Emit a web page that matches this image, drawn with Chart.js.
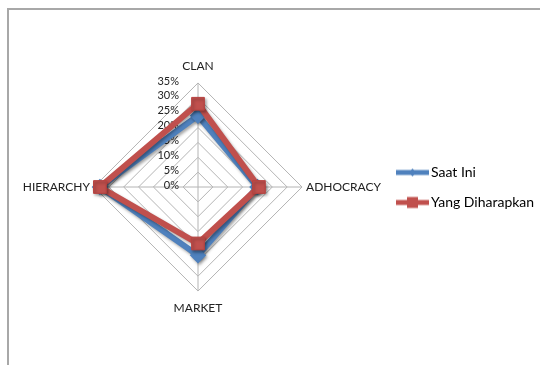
<!DOCTYPE html>
<html>
<head>
<meta charset="utf-8">
<script src="https://cdn.jsdelivr.net/npm/chart.js@4"></script>
<style>
  html, body { margin: 0; padding: 0; background: #fff; }
  #wrap { position: relative; width: 540px; height: 365px; overflow: hidden; }
  #frame { position: absolute; left: 7px; top: 8px; width: 600px; height: 400px;
           border-left: 2px solid #a8a8a8; border-top: 2px solid #a8a8a8; }
  #chart { position: absolute; left: 0; top: 0; }
</style>
</head>
<body>
<div id="wrap">
  <div id="frame"></div>
  <canvas id="chart" width="540" height="365"></canvas>
</div>
<script>
// Radar: budaya organisasi (OCAI)

const categories = ["CLAN", "ADHOCRACY", "MARKET", "HIERARCHY"];
const seriesNames = ["Saat Ini", "Yang Diharapkan"];
const saatIni = [24, 20, 23, 33];
const yangDiharapkan = [28, 20.5, 19, 33];
const tickValues = [0, 5, 10, 15, 20, 25, 30, 35];
const tickLabels = ["0%", "5%", "10%", "15%", "20%", "25%", "30%", "35%"];

const BLUE = "#4f81bd";
const RED = "#c0504d";
const FONT = "Lato, 'Open Sans', sans-serif";

// legend swatch: thick line with the marker in the middle
function legendSwatch(color, shape) {
    const c = document.createElement("canvas");
    c.width = 33;
    c.height = 14;
    const ctx = c.getContext("2d");
    ctx.strokeStyle = color;
    ctx.lineWidth = 5;
    ctx.beginPath();
    ctx.moveTo(0, 7);
    ctx.lineTo(33, 7);
    ctx.stroke();
    ctx.fillStyle = color;
    if (shape === "rect") {
        ctx.fillRect(11, 1.5, 11, 11);
    } else {
        ctx.beginPath();
        ctx.moveTo(16.5, 3);
        ctx.lineTo(20, 7);
        ctx.lineTo(16.5, 11);
        ctx.lineTo(13, 7);
        ctx.closePath();
        ctx.fill();
    }
    return c;
}
const swatches = [legendSwatch(BLUE, "diamond"), legendSwatch(RED, "rect")];

// percent labels sit left of the vertical axis, like Excel does
const tickLabelPlugin = {
    id: "tickLabels",
    beforeDatasetsDraw(chart) {
        const scale = chart.scales.r;
        const ctx = chart.ctx;
        ctx.save();
        ctx.font = "11px " + FONT;
        ctx.fillStyle = "#222";
        ctx.textAlign = "right";
        ctx.textBaseline = "middle";
        tickValues.forEach((v, i) => {
            const d = scale.getDistanceFromCenterForValue(v);
            ctx.fillText(tickLabels[i], scale.xCenter - 19, scale.yCenter - d - 2);
        });
        ctx.restore();
    }
};

// soft drop shadow under the series lines
const shadowPlugin = {
    id: "lineShadow",
    beforeDatasetDraw(chart) {
        const ctx = chart.ctx;
        ctx.save();
        ctx.shadowColor = "rgba(0,0,0,0.35)";
        ctx.shadowBlur = 3;
        ctx.shadowOffsetX = 1.5;
        ctx.shadowOffsetY = 2;
    },
    afterDatasetDraw(chart) {
        chart.ctx.restore();
    }
};

new Chart("chart", {
    type: "radar",
    data: {
        labels: categories,
        datasets: [{
            label: seriesNames[0],
            data: saatIni,
            borderColor: BLUE,
            backgroundColor: BLUE,
            borderWidth: 6,
            fill: false,
            pointStyle: "rectRot",
            pointRadius: 4,
            pointBackgroundColor: BLUE,
            pointBorderColor: BLUE,
            order: 1,
        }, {
            label: seriesNames[1],
            data: yangDiharapkan,
            borderColor: RED,
            backgroundColor: RED,
            borderWidth: 6,
            fill: false,
            pointStyle: "rect",
            pointRadius: 9,
            pointBackgroundColor: RED,
            pointBorderColor: "#b84340",
            pointBorderWidth: 1,
            order: 0,
        }],
    },
    options: {
        responsive: false,
        animation: false,
        layout: {
            padding: { top: 57, bottom: 47, left: 20, right: 0 },
        },
        plugins: {
            tooltip: { enabled: false },
            legend: {
                position: "right",
                maxWidth: 155,
                labels: {
                    usePointStyle: true,
                    pointStyleWidth: 23,
                    padding: 16,
                    color: "#000",
                    font: { family: FONT, size: 14 },
                    generateLabels(chart) {
                        return seriesNames.map((name, i) => ({
                            text: name,
                            pointStyle: swatches[i],
                            fillStyle: i ? RED : BLUE,
                            strokeStyle: i ? RED : BLUE,
                            lineWidth: 0,
                            hidden: false,
                            datasetIndex: i,
                        }));
                    },
                },
            },
        },
        scales: {
            r: {
                min: 0,
                max: 35,
                ticks: { stepSize: 5, display: false },
                grid: { color: "#b4b4b4", lineWidth: 1 },
                angleLines: { color: "#b4b4b4", lineWidth: 1 },
                pointLabels: {
                    color: "#222",
                    // top/bottom labels sit further out than the side ones
                    padding: (ctx) => (ctx.index % 2 === 0 ? 10 : 4),
                    font: { family: FONT, size: 12 },
                },
            },
        },
    },
    plugins: [tickLabelPlugin, shadowPlugin],
});
</script>
</body>
</html>
